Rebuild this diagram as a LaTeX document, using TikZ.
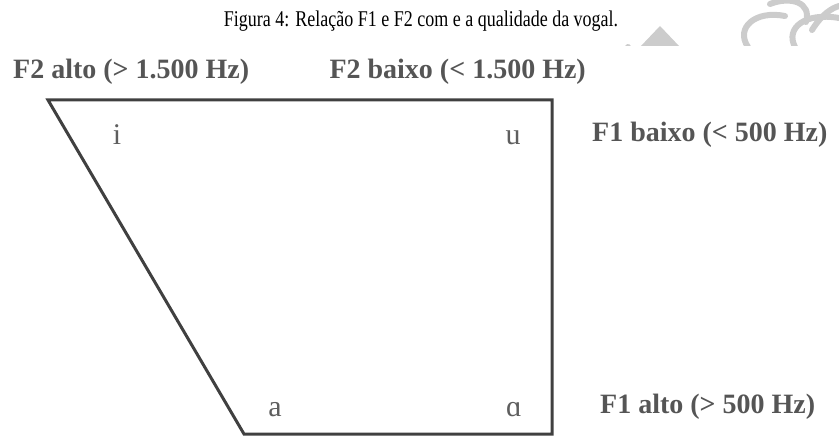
\documentclass[tikz,border=0pt]{standalone}
\usepackage{fontspec}
\setmainfont{Liberation Serif}
\newfontfamily\titlefont[FakeStretch=0.8]{Liberation Serif}
\definecolor{linegray}{HTML}{404040}
\definecolor{labelgray}{HTML}{555555}
\definecolor{vowelgray}{HTML}{5E5E5E}
\definecolor{markgray}{HTML}{CCCCCC}
\begin{document}
\begin{tikzpicture}[x=1pt,y=-1pt,
  titletext/.style={inner sep=0pt,anchor=base,font=\titlefont\fontsize{22.5}{25}\selectfont},
  axislabel/.style={inner sep=0pt,text=labelgray,font=\fontsize{28}{30}\selectfont\bfseries},
  vowel/.style={inner sep=0pt,anchor=base,text=vowelgray,font=\fontsize{30}{32}\selectfont},
  chart/.style={draw=linegray,line width=3pt,line join=miter}]
\useasboundingbox (0,0) rectangle (839,436);
% faint watermark fragment (top right)
\begin{scope}[markgray,line width=6pt,line cap=round]
  \draw (628,47) arc[start angle=165,end angle=88,radius=95];
  \fill (640,47) -- (660,26) -- (680,47) -- cycle;
  \draw (748,47) .. controls (735,28) and (755,10) .. (785,16);
  \draw (795,47) .. controls (785,28) and (805,12) .. (839,18);
  \draw (770,4) .. controls (790,-4) and (812,2) .. (806,22);
  \draw (812,30) .. controls (822,14) and (832,8) .. (839,6);
\end{scope}
\fill[white] (616,46) rectangle (839,436);
\node[titletext] (title) at (421,27) {Figura 4: Relação F1 e F2 com e a qualidade da vogal.};
\node[axislabel,anchor=base west] (f2alto) at (13,79) {F2 alto (> 1.500 Hz)};
\node[axislabel,anchor=base east] (f2baixo) at (586,79) {F2 baixo (< 1.500 Hz)};
\node[axislabel,anchor=base west] (f1baixo) at (592,141) {F1 baixo (< 500 Hz)};
\node[axislabel,anchor=base west] (f1alto) at (600,413) {F1 alto (> 500 Hz)};
\coordinate (tl) at (48,100);
\coordinate (tr) at (552,100);
\coordinate (br) at (552,434);
\coordinate (bl) at (244,434);
\draw[chart] (tl) -- (tr) -- (br) -- (bl) -- cycle;
\node[vowel] (i) at (117,144) {i};
\node[vowel] (u) at (513,144) {u};
\node[vowel] (a) at (275,416) {a};
\node[vowel] (alpha) at (514,416) {ɑ};
\end{tikzpicture}
\end{document}
